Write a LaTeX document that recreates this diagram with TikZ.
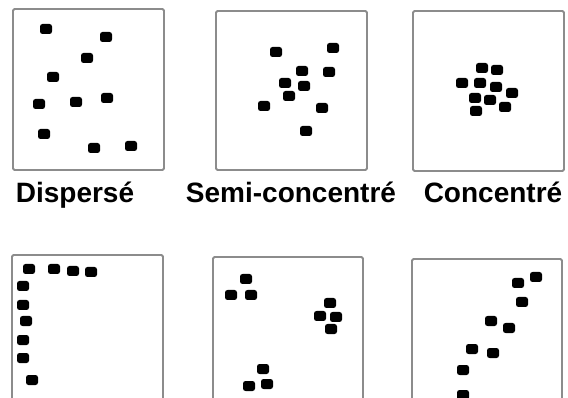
\documentclass[tikz,border=0pt]{standalone}
\usepackage{fontspec}
\setmainfont{Liberation Sans}
\begin{document}
\begin{tikzpicture}[x=1pt,y=-1pt,
  panel/.style={draw=black!45, line width=1.8pt, rounded corners=1.5pt, fill=none},
  dot/.style={rectangle, fill=black, rounded corners=2.5pt, minimum width=12pt, minimum height=10pt, inner sep=0pt},
  lbl/.style={anchor=base, inner sep=0pt, font=\fontsize{28}{30}\selectfont\bfseries}]
\clip (0,0) rectangle (568,398);
\fill[white] (0,0) rectangle (568,398);
% boxes
\draw[panel] (13,9) rectangle (164,170);
\draw[panel] (216,11) rectangle (367,170);
\draw[panel] (413,11) rectangle (564,171);
\draw[panel] (12,255) rectangle (163,430);
\draw[panel] (213,257) rectangle (363,430);
\draw[panel] (412,259) rectangle (562,430);
% panel 1: dispersed
\foreach \n/\p in {a1/{(46,29)}, a2/{(106,37)}, a3/{(87,58)}, a4/{(53,77)}, a5/{(39,104)},
                   a6/{(76,102)}, a7/{(107,98)}, a8/{(44,134)}, a9/{(94,148)}, a10/{(131,146)}}
  \node[dot] (\n) at \p {};
% panel 2: semi-concentrated
\foreach \n/\p in {b1/{(276,52)}, b2/{(333,48)}, b3/{(302,71)}, b4/{(329,72)}, b5/{(285,83)},
                   b6/{(304,86)}, b7/{(289,96)}, b8/{(264,106)}, b9/{(322,108)}, b10/{(306,131)}}
  \node[dot] (\n) at \p {};
% panel 3: concentrated
\foreach \n/\p in {c1/{(482,68)}, c2/{(497,70)}, c3/{(462,83)}, c4/{(480,83)}, c5/{(496,87)},
                   c6/{(512,93)}, c7/{(475,98)}, c8/{(490,100)}, c9/{(476,111)}, c10/{(505,107)}}
  \node[dot] (\n) at \p {};
% labels
\node[lbl] (l1) at (75,203) {Dispersé};
\node[lbl] (l2) at (291,203) {Semi-concentré};
\node[lbl] (l3) at (493,203) {Concentré};
% panel 4: L-shape
\foreach \n/\p in {d1/{(29,269)}, d2/{(54,269)}, d3/{(73,271)}, d4/{(91,272)}, d5/{(23,286)},
                   d6/{(23,305)}, d7/{(26,321)}, d8/{(23,340)}, d9/{(23,358)}, d10/{(32,380)}}
  \node[dot] (\n) at \p {};
% panel 5: clusters
\foreach \n/\p in {e1/{(246,279)}, e2/{(231,295)}, e3/{(251,295)}, e4/{(330,303)}, e5/{(320,316)},
                   e6/{(336,317)}, e7/{(331,329)}, e8/{(263,369)}, e9/{(249,386)}, e10/{(267,384)}}
  \node[dot] (\n) at \p {};
% panel 6: linear
\foreach \n/\p in {f1/{(536,277)}, f2/{(518,283)}, f3/{(522,302)}, f4/{(491,321)}, f5/{(509,328)},
                   f6/{(472,349)}, f7/{(493,353)}, f8/{(463,370)}, f9/{(463,395)}}
  \node[dot] (\n) at \p {};
\end{tikzpicture}
\end{document}
